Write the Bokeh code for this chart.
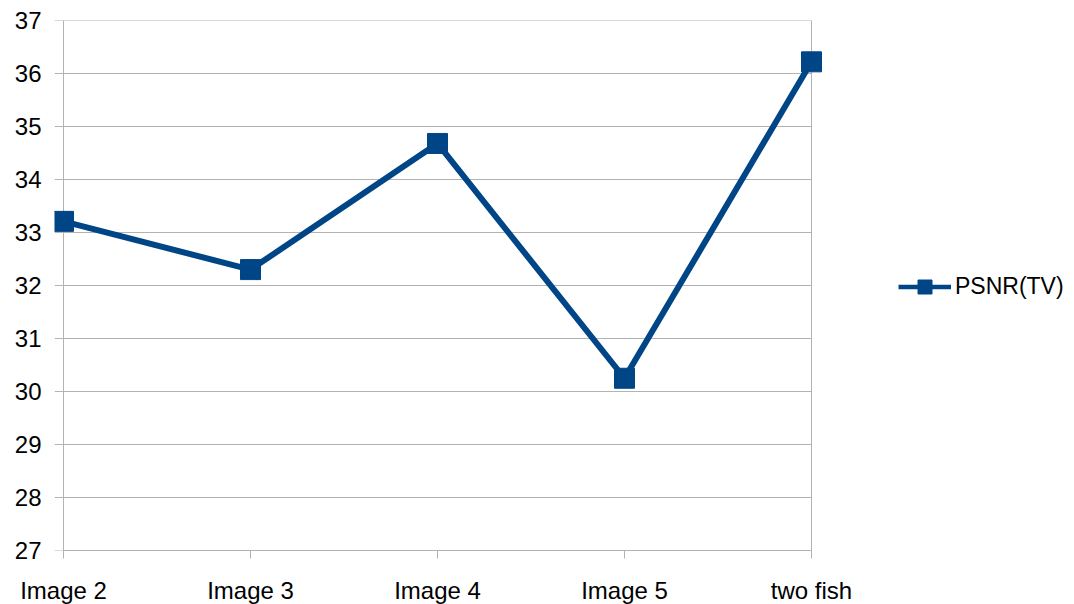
from bokeh.plotting import figure
from bokeh.models import Legend, LegendItem, ColumnDataSource, FixedTicker, Range1d, Span
from bokeh.embed import file_html
from bokeh.resources import INLINE

categories = ["Image 2", "Image 3", "Image 4", "Image 5", "two fish"]
psnr_tv = [33.21, 32.30, 34.68, 30.25, 36.22]
y_ticks = list(range(27, 38))

BLUE = "#004586"
GRAY = "#b3b3b3"
FONT = "Liberation Sans"

n = len(categories)
xs = list(range(n))
src = ColumnDataSource(dict(x=xs, y=psnr_tv))

# pixel layout of the plotting frame (frame also hosts the legend area on the right)
W = 1066
left_border = 54
inner_w = 748          # width between first and last category
pad_l = 9              # room left of the first category (tick marks)
frame_w = W - left_border
upx = (n - 1) / inner_w
x_start = -pad_l * upx
x_end = x_start + frame_w * upx

p = figure(width=W, height=600, output_backend="svg", toolbar_location=None,
           x_range=Range1d(x_start, x_end), y_range=Range1d(y_ticks[0], y_ticks[-1]),
           min_border_left=left_border, min_border_top=20, min_border_bottom=50, min_border_right=0)
p.frame_width = frame_w
p.frame_height = 530

# gridlines (limited to the plot area) and frame lines, under the data
p.xgrid.grid_line_color = None
p.ygrid.grid_line_color = None
p.segment(x0=x_start, x1=n - 1, y0=y_ticks, y1=y_ticks, line_color=GRAY, line_width=1)
for loc in (0, n - 1):
    p.add_layout(Span(location=loc, dimension="height", line_color=GRAY, line_width=1, level="underlay"))

p.line("x", "y", source=src, line_color=BLUE, line_width=6)
p.scatter("x", "y", source=src, marker="square", size=20, fill_color=BLUE, line_color=BLUE)

# legend proxies (invisible in the plot, drawn only in the legend)
proxy = ColumnDataSource(dict(x=[float("nan")], y=[float("nan")]))
lg_line = p.line("x", "y", source=proxy, line_color=BLUE, line_width=4.5)
lg_mark = p.scatter("x", "y", source=proxy, marker="square", size=14, fill_color=BLUE, line_color=BLUE)
legend = Legend(items=[LegendItem(label="PSNR(TV)", renderers=[lg_line, lg_mark])],
                location=(inner_w + pad_l + 87, 246), border_line_color=None, background_fill_alpha=0,
                label_text_font=FONT, label_text_font_size="23px", label_text_color="#000000",
                glyph_width=53, glyph_height=35, label_height=35, label_standoff=4, padding=0, margin=0)
p.add_layout(legend)

p.xaxis.ticker = FixedTicker(ticks=xs)
p.xaxis.major_label_overrides = {i: c for i, c in enumerate(categories)}
p.xaxis.bounds = (0, n - 1)
p.yaxis.ticker = FixedTicker(ticks=y_ticks)

for ax in (p.xaxis[0], p.yaxis[0]):
    ax.axis_line_color = GRAY
    ax.axis_line_width = 1
    ax.major_tick_line_color = GRAY
    ax.major_tick_in = 0
    ax.minor_tick_line_color = None
    ax.major_label_text_font = FONT
    ax.major_label_text_font_size = "24px"
    ax.major_label_text_color = "#000000"
p.yaxis.axis_line_color = None
p.yaxis.major_tick_line_color = None
p.yaxis.major_tick_out = 0
p.xaxis.major_tick_out = 8
p.xaxis.major_label_standoff = 18
p.yaxis.major_label_standoff = 13

p.outline_line_color = None
p.background_fill_color = "white"
p.border_fill_color = "white"

open("out.html", "w").write(file_html(p, INLINE))
